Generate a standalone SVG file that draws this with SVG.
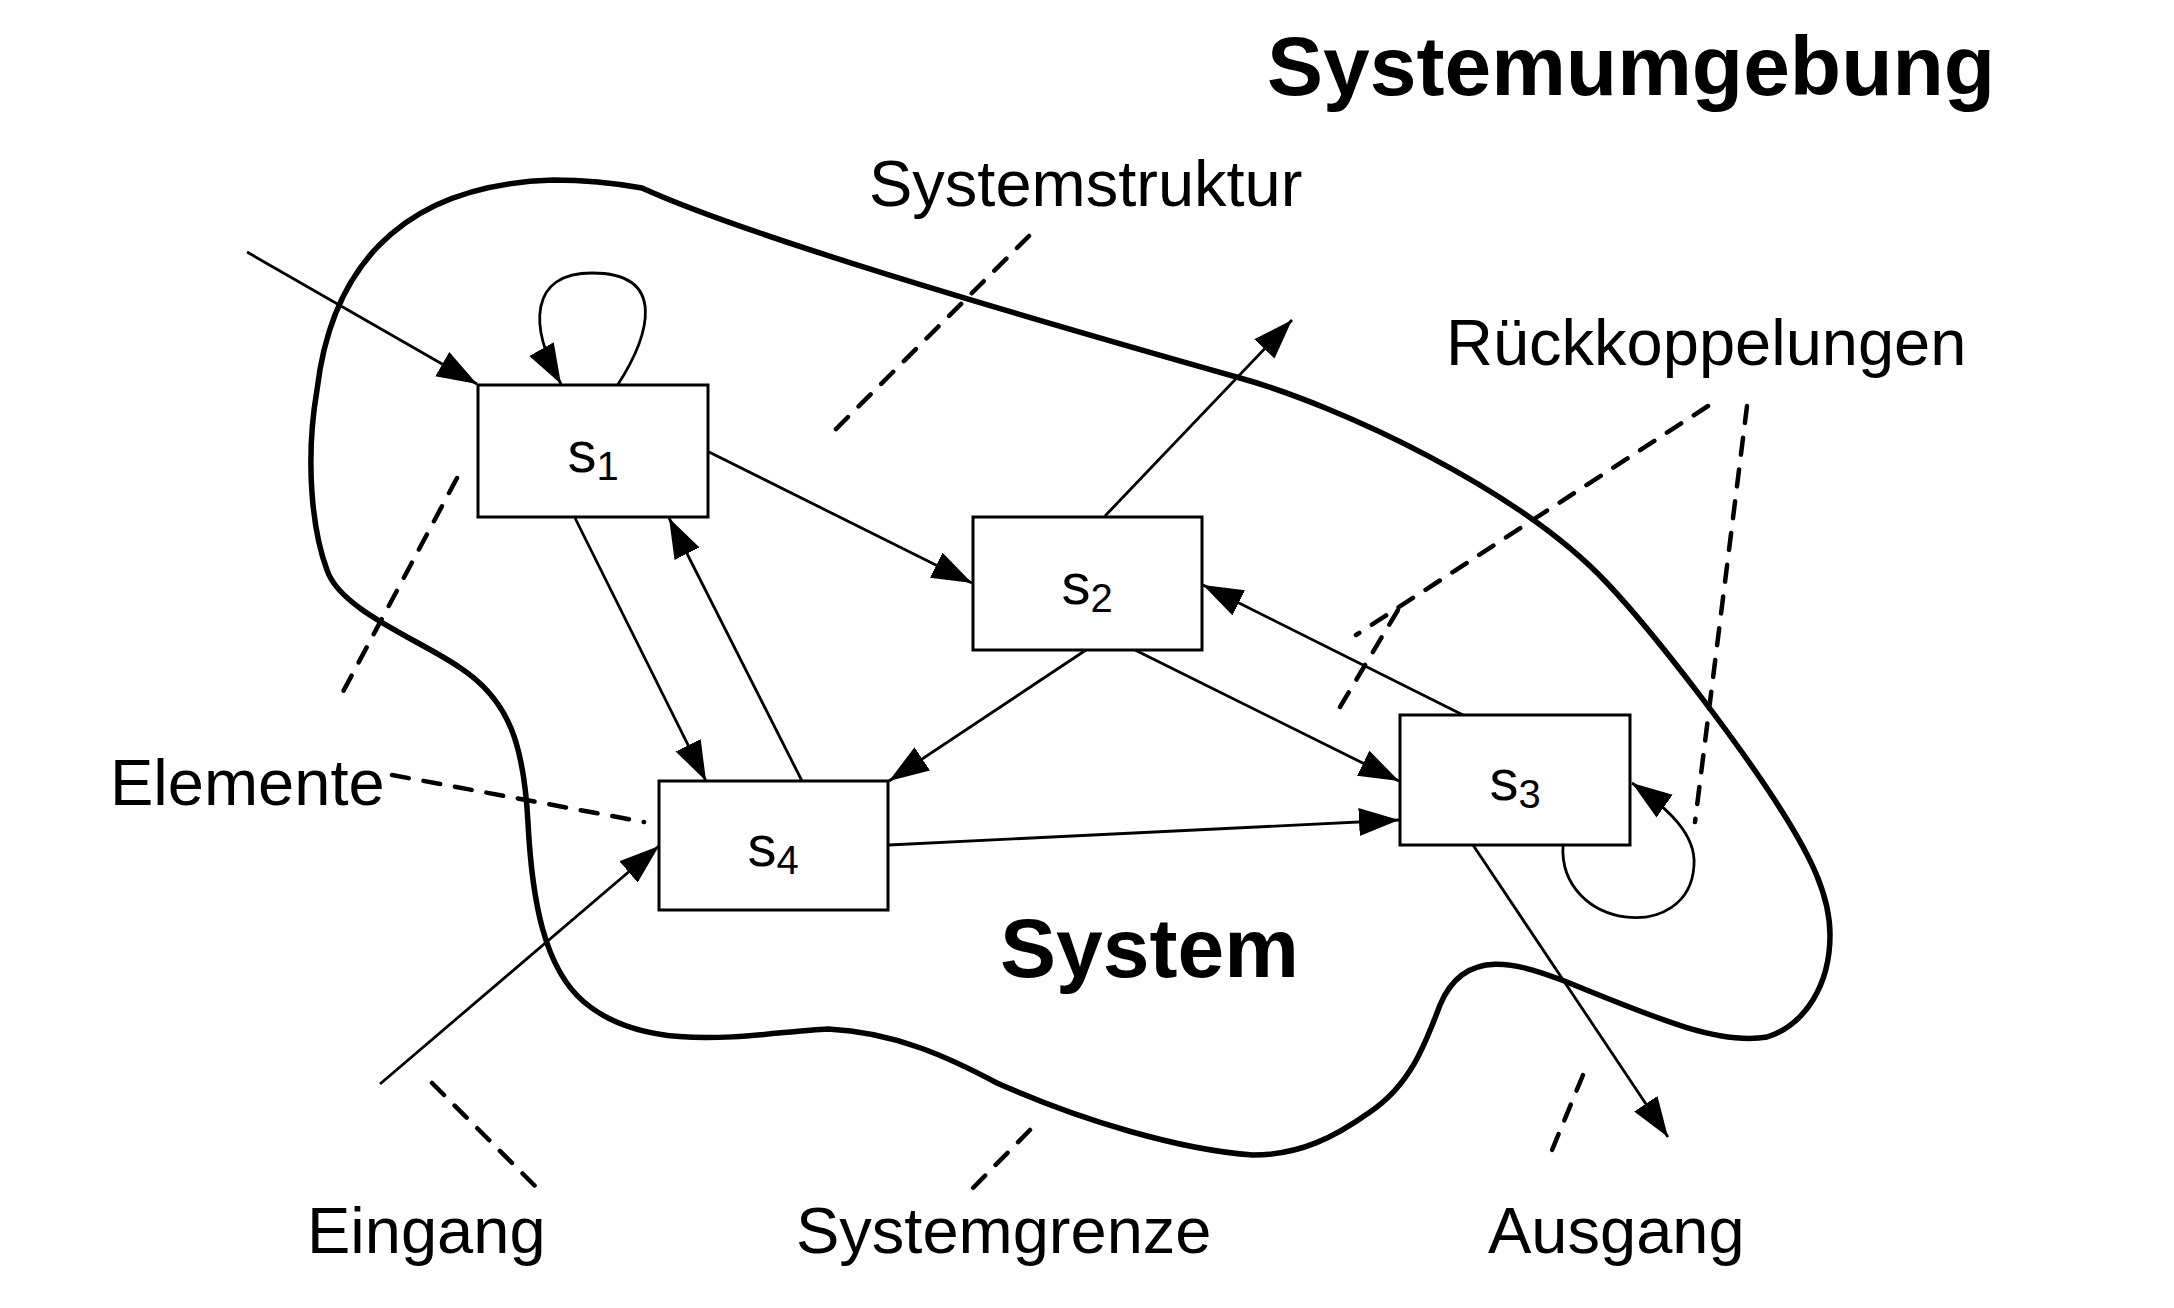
<svg xmlns="http://www.w3.org/2000/svg" width="2174" height="1308" viewBox="0 0 2174 1308">
<defs>
<style>
.bnd{fill:none;stroke:#000;stroke-width:5.5;stroke-linejoin:round}
.box{fill:#fff;stroke:#000;stroke-width:3}
.con{fill:none;stroke:#000;stroke-width:2.8}
.arr{marker-end:url(#ah)}
.dash{fill:none;stroke:#000;stroke-width:4.5;stroke-dasharray:17 15;stroke-linecap:round}
.lbl{font-family:"Liberation Sans",Arial,sans-serif;font-size:65px;fill:#000}
.big{font-family:"Liberation Sans",Arial,sans-serif;font-size:84px;font-weight:bold;fill:#000}
.nl{font-family:"Liberation Sans",Arial,sans-serif;font-size:58px;fill:#000;text-anchor:middle}
.sub{font-size:40px}
</style>
<marker id="ah" markerUnits="userSpaceOnUse" viewBox="0 0 42 30" markerWidth="42" markerHeight="30" refX="40" refY="14" orient="auto">
<path d="M0,0 L40,14 L0,28 z" fill="#000"/>
</marker>
</defs>
<rect width="2174" height="1308" fill="#fff"/>

<g id="boundary">
<path class="bnd" d="M642,188 C745,235 1000,310 1240,378 C1340,406 1520,490 1607,583 C1657,636 1743,749 1783,813 C1810,856 1830,895 1830,935 C1830,985 1805,1025 1767,1037 C1720,1045 1660,1020 1567,982 C1520,964 1465,945 1440,1005 C1425,1045 1410,1085 1370,1112 C1335,1137 1300,1155 1253,1155 C1180,1150 1080,1120 997,1083 C950,1058 895,1032 828,1029 C760,1032 650,1058 584,1002 C544,968 532,900 528,823 C524,746 510,700 459,667 C420,640 340,610 327,570 C312,530 305,460 317,390 C330,280 390,185 553,180 C590,180 620,184 642,188 Z"/>
</g>

<g id="connectors">
<path class="con arr" d="M247,252 L477,384"/>
<path class="con arr" d="M617,386 C650,335 668,273 592,273 C530,273 528,325 561,384"/>
<path class="con arr" d="M709,452 L972,583"/>
<path class="con arr" d="M575,518 L706,781"/>
<path class="con arr" d="M802,781 L669,518"/>
<path class="con arr" d="M1105,516 L1292,320"/>
<path class="con arr" d="M1086,650 L889,781"/>
<path class="con arr" d="M1135,650 L1399,781"/>
<path class="con arr" d="M1465,716 L1203,585"/>
<path class="con arr" d="M889,845 L1399,820"/>
<path class="con arr" d="M380,1084 L659,846"/>
<path class="con arr" d="M1563,845 C1558,930 1690,945 1694,865 C1696,835 1670,810 1632,783"/>
<path class="con arr" d="M1473,845 L1668,1137"/>
</g>

<g id="pointers">
<path class="dash" d="M1029,236 L826,439"/>
<path class="dash" d="M457,478 L337,703"/>
<path class="dash" d="M392,775 L644,822"/>
<path class="dash" d="M432,1083 L539,1190"/>
<path class="dash" d="M1030,1130 L971,1190"/>
<path class="dash" d="M1583,1075 L1550,1155"/>
<path class="dash" d="M1708,406 L1356,635"/>
<path class="dash" d="M1398,610 L1334,717"/>
<path class="dash" d="M1747,406 L1695,822"/>
</g>

<g id="s1">
<rect class="box" x="478" y="385" width="230" height="132"/>
<text class="nl" x="593" y="472">s<tspan class="sub" dy="8">1</tspan></text>
</g>
<g id="s2">
<rect class="box" x="973" y="517" width="229" height="133"/>
<text class="nl" x="1087" y="604">s<tspan class="sub" dy="8">2</tspan></text>
</g>
<g id="s3">
<rect class="box" x="1400" y="715" width="230" height="130"/>
<text class="nl" x="1515" y="800">s<tspan class="sub" dy="8">3</tspan></text>
</g>
<g id="s4">
<rect class="box" x="659" y="781" width="229" height="129"/>
<text class="nl" x="773" y="866">s<tspan class="sub" dy="8">4</tspan></text>
</g>

<g id="labels">
<text class="big" x="1267" y="95">Systemumgebung</text>
<text class="big" x="1000" y="977">System</text>
<text class="lbl" x="869" y="206">Systemstruktur</text>
<text class="lbl" x="1446" y="365">Rückkoppelungen</text>
<text class="lbl" x="110" y="805">Elemente</text>
<text class="lbl" x="307" y="1253">Eingang</text>
<text class="lbl" x="796" y="1253">Systemgrenze</text>
<text class="lbl" x="1488" y="1253">Ausgang</text>
</g>
</svg>
